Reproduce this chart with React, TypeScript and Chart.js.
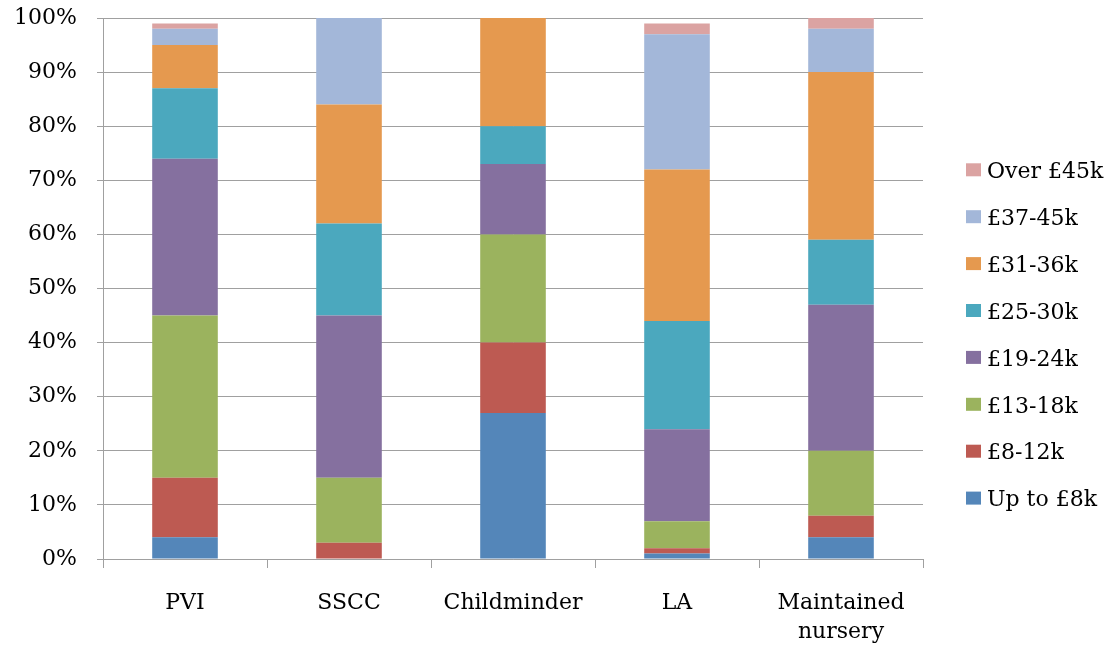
import { useEffect, useRef } from 'react';
import { Chart, registerables } from 'chart.js';

Chart.register(...registerables);

const categories: (string | string[])[] = ['PVI', 'SSCC', 'Childminder', 'LA', ['Maintained', 'nursery']];
const seriesNames = ['Up to £8k', '£8-12k', '£13-18k', '£19-24k', '£25-30k', '£31-36k', '£37-45k', 'Over £45k'];
const upTo8k = [4, 0, 27, 1, 4];
const k8to12 = [11, 3, 13, 1, 4];
const k13to18 = [30, 12, 20, 5, 12];
const k19to24 = [29, 30, 13, 17, 27];
const k25to30 = [13, 17, 7, 20, 12];
const k31to36 = [8, 22, 20, 28, 31];
const k37to45 = [3, 16, 0, 25, 8];
const over45k = [1, 0, 0, 2, 2];
const seriesColors = ['#5486b9', '#bd5a52', '#9bb35e', '#85709f', '#4ba8be', '#e5994f', '#a3b7d9', '#dba3a2'];
const yMin = 0;
const yMax = 100;
const yStep = 10;

const FONT = '"DejaVu Serif", serif';

const legendPlugin = {
  id: 'rightLegend',
  afterDraw(chart: any) {
    const ctx = chart.ctx;
    const ds = chart.data.datasets;
    const left = chart.chartArea.right + 43;
    const top = 163.3;
    ctx.save();
    ctx.font = `22px ${FONT}`;
    ctx.textBaseline = 'middle';
    ctx.textAlign = 'left';
    ds.slice().reverse().forEach((d: any, i: number) => {
      const y = top + i * 46.9;
      ctx.fillStyle = d.backgroundColor;
      ctx.fillRect(left, y, 15, 13);
      ctx.fillStyle = '#000';
      ctx.fillText(d.label, left + 21, y + 9);
    });
    ctx.restore();
  },
};

export default function App() {
  const ref = useRef<HTMLCanvasElement>(null);
  useEffect(() => {
    if (!ref.current) return;
    const values = [upTo8k, k8to12, k13to18, k19to24, k25to30, k31to36, k37to45, over45k];
    const chart = new Chart(ref.current, {
      type: 'bar',
      data: {
        labels: categories,
        datasets: values.map((v, i) => ({
          label: seriesNames[i],
          data: v,
          backgroundColor: seriesColors[i],
          borderWidth: 0,
          categoryPercentage: 1,
          barPercentage: 0.4,
        })),
      },
      options: {
        animation: false,
        responsive: true,
        maintainAspectRatio: false,
        layout: { padding: { top: 18, right: 190, left: 0, bottom: 0 } },
        plugins: {
          legend: { display: false },
          tooltip: { enabled: false },
        },
        scales: {
          x: {
            stacked: true,
            afterFit: (s: any) => { s.height = 90; },
            grid: {
              display: true,
              drawOnChartArea: false,
              drawTicks: true,
              tickLength: 9,
              offset: true,
              color: '#a0a0a0',
              lineWidth: 1,
            },
            border: { display: true, color: '#a0a0a0', width: 1 },
            ticks: {
              color: '#000',
              padding: 21,
              maxRotation: 0,
              font: { family: FONT, size: 22, lineHeight: 1.3 },
            },
          },
          y: {
            stacked: true,
            min: yMin,
            max: yMax,
            afterFit: (s: any) => { s.width = 103; s.paddingTop = 0; s.paddingBottom = 0; },
            grid: {
              color: '#a0a0a0',
              lineWidth: 1,
              drawTicks: true,
              tickLength: 6,
            },
            border: { display: true, color: '#a0a0a0', width: 1 },
            ticks: {
              stepSize: yStep,
              color: '#000',
              padding: 20,
              font: { family: FONT, size: 22 },
              callback: (v: any) => `${v}%`,
            },
          },
        },
      },
      plugins: [legendPlugin],
    });
    return () => chart.destroy();
  }, []);
  return (
    <div style={{ position: 'fixed', left: 0, top: 0, width: 1113, height: 649, background: '#fff' }}>
      <canvas ref={ref} />
    </div>
  );
}
